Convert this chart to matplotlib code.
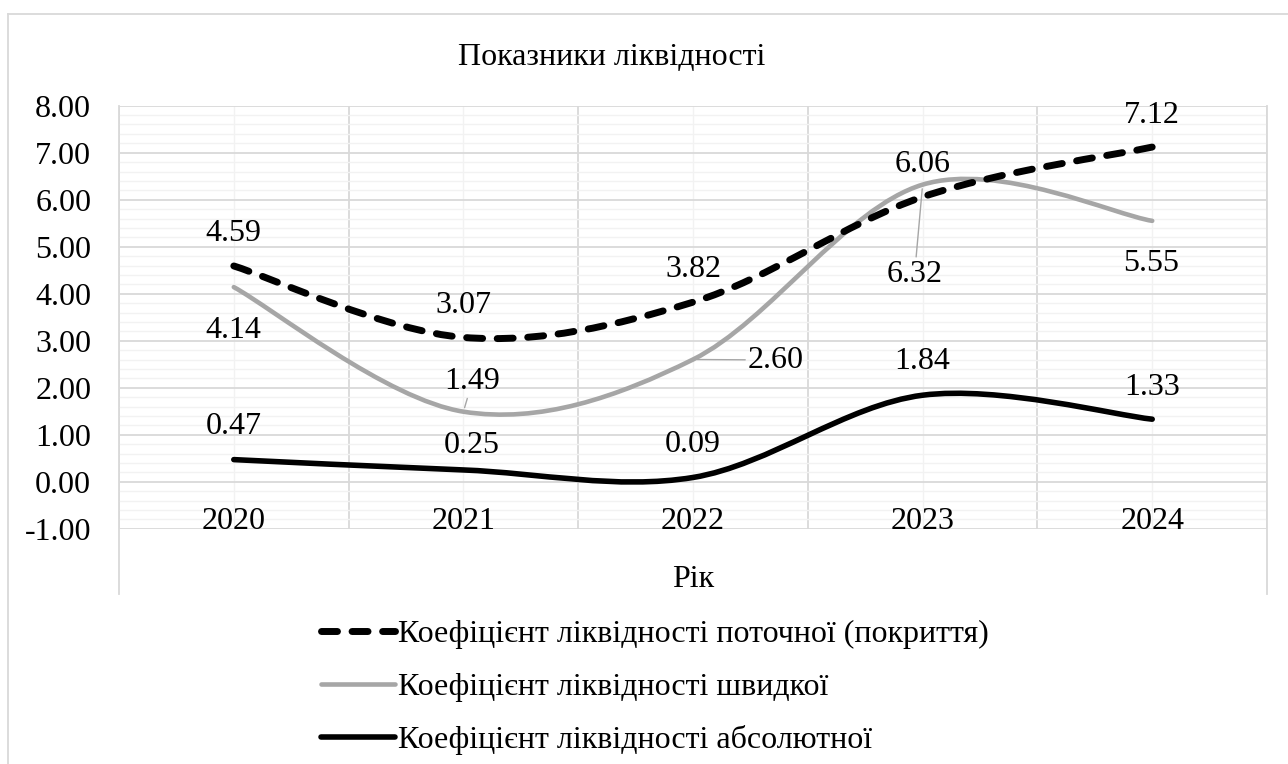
import numpy as np
import matplotlib
matplotlib.use("Agg")
import matplotlib.pyplot as plt
from matplotlib.path import Path
from matplotlib.patches import PathPatch
from matplotlib.lines import Line2D
from matplotlib.ticker import MultipleLocator, FormatStrFormatter

plt.rcParams["font.family"] = ["Liberation Serif", "DejaVu Serif"]

# дані
years = ["2020", "2021", "2022", "2023", "2024"]
current_ratio = [4.59, 3.07, 3.82, 6.06, 7.12]
quick_ratio = [4.14, 1.49, 2.60, 6.32, 5.55]
absolute_ratio = [0.47, 0.25, 0.09, 1.84, 1.33]

series_names = [
    "Коефіцієнт ліквідності поточної (покриття)",
    "Коефіцієнт ліквідності швидкої",
    "Коефіцієнт ліквідності абсолютної",
]
title = "Показники ліквідності"
x_title = "Рік"

W, H = 1288, 764
FS = 23
GRID = "#D9D9D9"
GRAY = "#A6A6A6"


def smooth_path(xs, ys):
    # згладжування як в Excel (Catmull-Rom -> Bezier)
    pts = list(zip(xs, ys))
    n = len(pts)
    verts = [pts[0]]
    codes = [Path.MOVETO]
    for i in range(n - 1):
        p0 = pts[max(i - 1, 0)]
        p1 = pts[i]
        p2 = pts[i + 1]
        p3 = pts[min(i + 2, n - 1)]
        c1 = (p1[0] + (p2[0] - p0[0]) / 6, p1[1] + (p2[1] - p0[1]) / 6)
        c2 = (p2[0] - (p3[0] - p1[0]) / 6, p2[1] - (p3[1] - p1[1]) / 6)
        verts += [c1, c2, p2]
        codes += [Path.CURVE4] * 3
    return Path(verts, codes)


fig = plt.figure(figsize=(W / 100, H / 100), dpi=100)
x0, x1 = 119, 1267
ytop, ybot = 105.7, 528.7
ax = fig.add_axes([x0 / W, 1 - ybot / H, (x1 - x0) / W, (ybot - ytop) / H])

x = np.arange(len(years))
ax.set_xlim(-0.5, len(years) - 0.5)
ax.set_ylim(-1, 8)

ax.set_xticks(np.arange(-0.5, len(years), 1.0))
ax.set_xticks(x, minor=True)
ax.yaxis.set_major_locator(MultipleLocator(1))
ax.yaxis.set_minor_locator(MultipleLocator(0.2))
ax.yaxis.set_major_formatter(FormatStrFormatter("%.2f"))
ax.tick_params(axis="x", which="both", length=0, labelbottom=False)
ax.tick_params(axis="y", which="both", length=0, pad=20, labelsize=FS)
ax.grid(which="minor", color="#F2F2F2", lw=1.0)
ax.grid(which="major", color=GRID, lw=1.3)
ax.set_axisbelow(True)
for s in ax.spines.values():
    s.set_visible(False)

# лінії
styles = [
    dict(color="black", lw=5.0, ls=(0, (2.3, 2.1)), z=4),
    dict(color=GRAY, lw=3.3, ls="-", z=3),
    dict(color="black", lw=4.0, ls="-", z=3),
]
all_series = [current_ratio, quick_ratio, absolute_ratio]
for vals, st in zip(all_series, styles):
    patch = PathPatch(smooth_path(x, vals), fill=False, edgecolor=st["color"],
                      lw=st["lw"], linestyle=st["ls"], zorder=st["z"])
    patch.set_capstyle("round")
    patch.set_joinstyle("round")
    ax.add_patch(patch)

# підписи даних (зсув у пікселях відносно точки, по базовій лінії)
offsets = [
    [(0, 25), (0, 24), (0, 25), (0, 25), (0, 24)],
    [(0, -51), (9, 23), (83, -8), (-8, -97), (-1, -50)],
    [(0, 26), (8, 17), (0, 25), (0, 26), (0, 24)],
]
leaders = [
    [False] * 5,
    [False, True, True, True, False],
    [False] * 5,
]
for vals, offs, lead in zip(all_series, offsets, leaders):
    for i, v in enumerate(vals):
        kw = {}
        if lead[i]:
            kw["arrowprops"] = dict(arrowstyle="-", color=GRAY, lw=1.0,
                                    shrinkA=0, shrinkB=3)
        ax.annotate(f"{v:.2f}", xy=(i, v), xytext=offs[i],
                    textcoords="offset pixels", ha="center", va="baseline",
                    fontsize=FS, zorder=6, **kw)

# підписи категорій
for i, y in enumerate(years):
    ax.text(i, -1, y, ha="center", va="baseline", fontsize=FS)

fig.text(693 / W, 1 - 587 / H, x_title, ha="center", va="baseline", fontsize=FS)
fig.text(611.5 / W, 1 - 65 / H, title, ha="center", va="baseline", fontsize=FS)

# рамки
fig.add_artist(Line2D([x0 / W, x0 / W], [1 - ytop / H, 1 - 594 / H], color=GRID, lw=1.3))
fig.add_artist(Line2D([x1 / W, x1 / W], [1 - ytop / H, 1 - 594 / H], color=GRID, lw=1.3))
fig.add_artist(Line2D([7.5 / W, 7.5 / W], [0, 1 - 13.5 / H], color=GRID, lw=1.3))
fig.add_artist(Line2D([7.5 / W, 1], [1 - 13.5 / H, 1 - 13.5 / H], color=GRID, lw=1.3))

# легенда
handles = []
for st in styles:
    h = Line2D([], [], color=st["color"], lw=st["lw"], ls=st["ls"],
               solid_capstyle="round", dash_capstyle="round")
    handles.append(h)
fig.legend(handles, series_names, loc="upper left",
           bbox_to_anchor=(321 / W, 1 - 620 / H), frameon=False,
           fontsize=FS, handlelength=2.32, handletextpad=0.1,
           labelspacing=0.72, borderpad=0, borderaxespad=0)

fig.savefig("out.png", dpi=100)
